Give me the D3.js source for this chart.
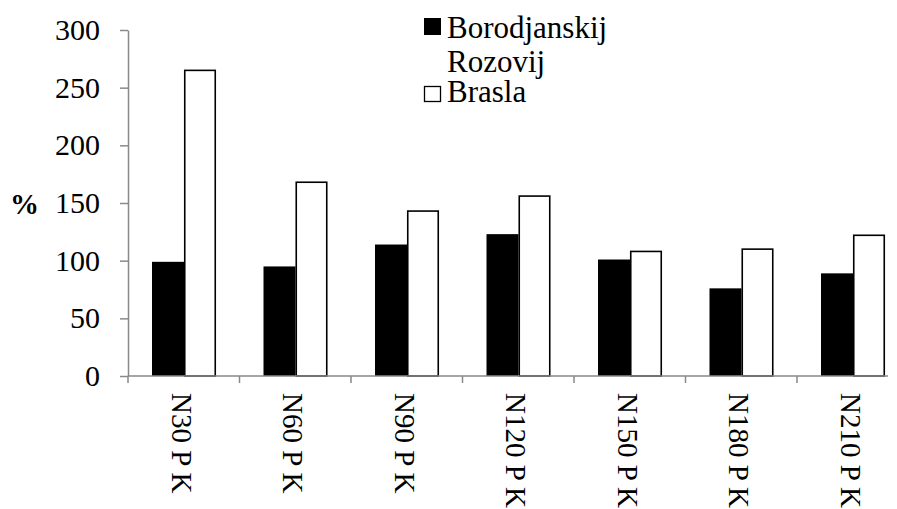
<!DOCTYPE html>
<html>
<head>
<meta charset="utf-8">
<script src="https://cdn.jsdelivr.net/npm/d3@7"></script>
<style>
  html, body { margin: 0; padding: 0; background: #fff; }
  svg { display: block; }
</style>
</head>
<body>
<svg id="chart" width="897" height="509"></svg>
<script>
// Fertilizer treatments on the category axis
const categories = ["N30 P K", "N60 P K", "N90 P K", "N120 P K", "N150 P K", "N180 P K", "N210 P K"];
// Yield relative to control, %
const borodjanskij = [99, 95, 114, 123, 101, 76, 89];
const brasla = [265, 168, 143, 156, 108, 110, 122];
const seriesNames = ["Borodjanskij Rozovij", "Brasla"];
const yTicks = [0, 50, 100, 150, 200, 250, 300];

const FONT = "'Liberation Serif', 'Times New Roman', Tinos, 'DejaVu Serif', serif";
const svg = d3.select("#chart");
const axisColor = "#898989";

const plotLeft = 128, plotTop = 30, plotBottom = 376, step = 111.5;
const axisEnd = 888;

const y = d3.scaleLinear().domain([0, 300]).range([plotBottom, plotTop]);
const x0 = d3.scaleBand().domain(categories)
  .range([plotLeft, plotLeft + step * categories.length]).paddingInner(0).paddingOuter(0);
const x1 = d3.scaleBand().domain(seriesNames).range([24, 88]).padding(0);

// Bars
const data = categories.map((c, i) => ({ cat: c, vals: [borodjanskij[i], brasla[i]] }));
const groups = svg.append("g").selectAll("g").data(data).join("g")
  .attr("transform", d => `translate(${x0(d.cat)},0)`);

groups.append("rect")
  .attr("x", x1(seriesNames[0]))
  .attr("y", d => y(d.vals[0]))
  .attr("width", x1.bandwidth())
  .attr("height", d => y(0) - y(d.vals[0]))
  .attr("fill", "#000");

groups.append("rect")
  .attr("x", x1(seriesNames[1]) + 0.75)
  .attr("y", d => y(d.vals[1]))
  .attr("width", x1.bandwidth() - 1.5)
  .attr("height", d => y(0) - y(d.vals[1]))
  .attr("fill", "#fff")
  .attr("stroke", "#000")
  .attr("stroke-width", 1.6);

// Y axis
const yAxis = svg.append("g")
  .attr("transform", `translate(${plotLeft},0)`)
  .call(d3.axisLeft(y).tickValues(yTicks).tickSize(8).tickSizeOuter(0).tickPadding(20))
  .attr("font-family", FONT)
  .attr("font-size", 30);
yAxis.select(".domain").attr("stroke", axisColor).attr("stroke-width", 1.5);
yAxis.selectAll(".tick line").attr("stroke", axisColor).attr("stroke-width", 1.5);
yAxis.selectAll(".tick text").attr("fill", "#000");

// X axis line and category boundary ticks
const xAxis = svg.append("g");
xAxis.append("line")
  .attr("x1", plotLeft).attr("x2", axisEnd)
  .attr("y1", plotBottom).attr("y2", plotBottom)
  .attr("stroke", axisColor).attr("stroke-width", 1.5);
xAxis.selectAll("line.tick").data(categories).join("line")
  .attr("class", "tick")
  .attr("x1", d => x0(d)).attr("x2", d => x0(d))
  .attr("y1", plotBottom).attr("y2", plotBottom + 7)
  .attr("stroke", axisColor).attr("stroke-width", 1.5);

// Rotated category labels
xAxis.selectAll("text").data(categories).join("text")
  .attr("transform", d => `translate(${x0(d) + x0.bandwidth() / 2},393) rotate(90)`)
  .attr("x", 0).attr("y", 12)
  .attr("font-family", FONT)
  .attr("font-size", 29)
  .text(d => d);

// Y axis title
svg.append("text")
  .attr("x", 10).attr("y", 214)
  .attr("font-family", FONT)
  .attr("font-size", 29).attr("font-weight", "bold")
  .text("%");

// Legend
const legend = svg.append("g").attr("font-family", FONT).attr("font-size", 31);
legend.append("rect").attr("x", 424).attr("y", 18).attr("width", 17).attr("height", 17).attr("fill", "#000");
legend.append("text").attr("x", 447).attr("y", 38).text("Borodjanskij");
legend.append("text").attr("x", 447).attr("y", 72).text("Rozovij");
legend.append("rect").attr("x", 424.5).attr("y", 86.5).attr("width", 16).attr("height", 15)
  .attr("fill", "#fff").attr("stroke", "#000").attr("stroke-width", 1.3);
legend.append("text").attr("x", 447).attr("y", 102).text("Brasla");
</script>
</body>
</html>
